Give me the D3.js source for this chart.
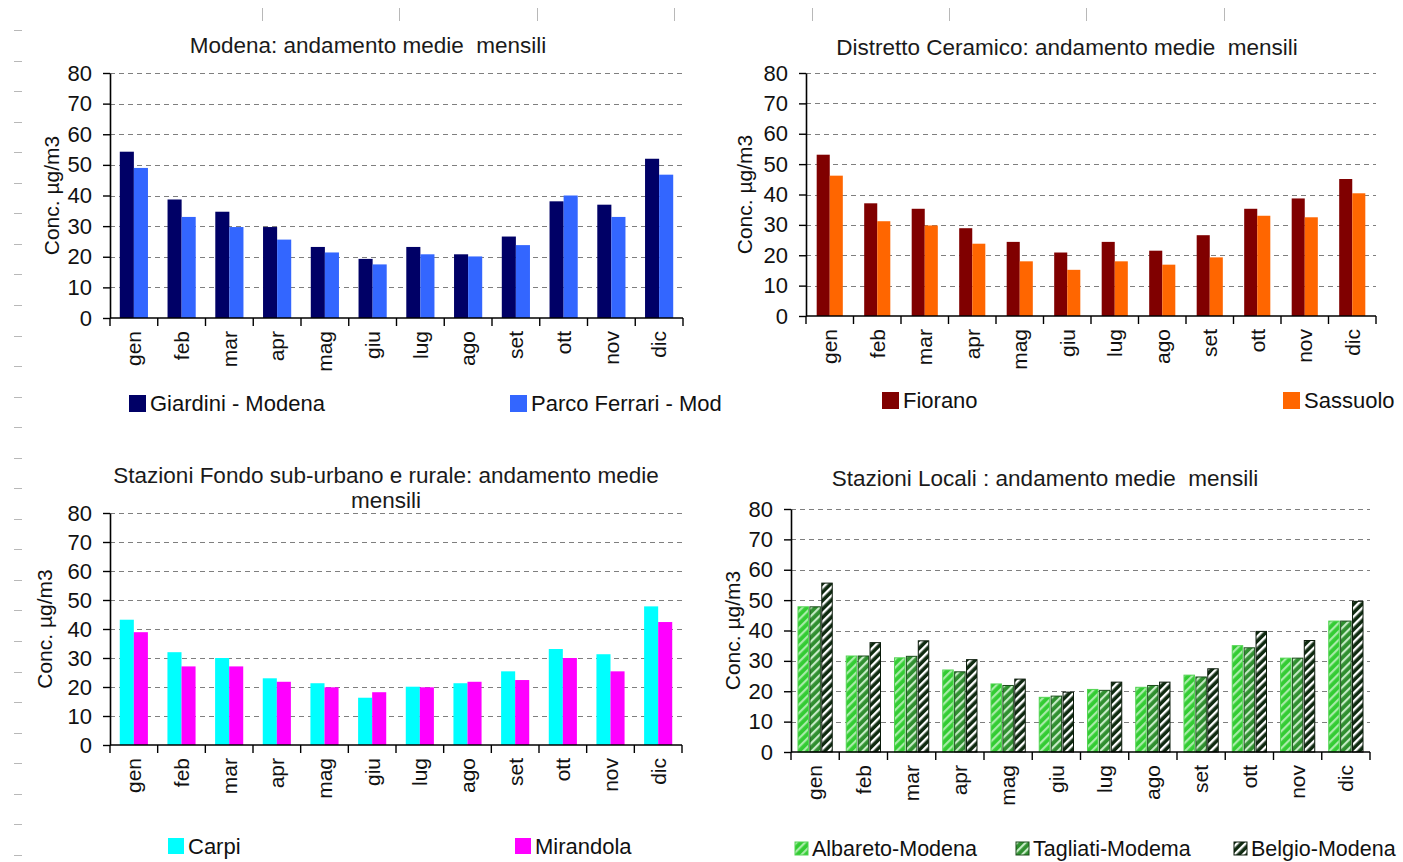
<!DOCTYPE html>
<html>
<head>
<meta charset="utf-8">
<script src="https://cdn.jsdelivr.net/npm/d3@7"></script>
<style>
  html, body { margin: 0; padding: 0; background: #ffffff; }
  svg { display: block; font-family: "Liberation Sans", Arial, sans-serif; }
  svg text { white-space: pre; }
</style>
</head>
<body>
<svg id="sheet" width="1403" height="862"></svg>
<script>
// Monthly mean concentrations (µg/m3) by station
const months = ["gen", "feb", "mar", "apr", "mag", "giu", "lug", "ago", "set", "ott", "nov", "dic"];
const yTicks = [0, 10, 20, 30, 40, 50, 60, 70, 80];

const giardiniModena = [54.3, 38.7, 34.7, 29.7, 23.2, 19.3, 23.2, 20.8, 26.6, 38.1, 37.0, 52.0];
const parcoFerrari   = [49.0, 33.0, 29.7, 25.6, 21.4, 17.5, 20.8, 20.1, 23.8, 40.0, 33.0, 46.8];

const fiorano  = [53.1, 37.1, 35.3, 28.9, 24.4, 20.9, 24.4, 21.5, 26.6, 35.3, 38.7, 45.1];
const sassuolo = [46.2, 31.2, 29.8, 23.8, 18.0, 15.2, 18.0, 16.9, 19.3, 33.0, 32.5, 40.4];

const carpi     = [43.2, 32.0, 30.0, 23.0, 21.3, 16.3, 20.1, 21.3, 25.4, 33.1, 31.3, 47.8];
const mirandola = [38.9, 27.1, 27.1, 21.8, 19.9, 18.2, 19.9, 21.8, 22.4, 30.0, 25.4, 42.4];

const albareto = [47.8, 31.6, 31.0, 27.0, 22.4, 18.0, 20.6, 21.3, 25.3, 35.0, 30.9, 43.1];
const tagliati = [47.8, 31.6, 31.5, 26.4, 21.9, 18.4, 20.3, 21.9, 24.7, 34.3, 30.9, 43.1];
const belgio   = [55.6, 36.0, 36.6, 30.4, 24.0, 19.7, 23.0, 23.0, 27.4, 39.7, 36.7, 49.6];

const svg = d3.select("#sheet");
const TICK_FONT = 22;
const LABEL_FONT = 21;
const TITLE_FONT = 22.5;
const LEGEND_FONT = 22;

// Diagonal hatch fills used by the local-station bars
const defs = svg.append("defs");
function hatch(id, base, stripe, width) {
  const p = defs.append("pattern")
    .attr("id", id)
    .attr("patternUnits", "userSpaceOnUse")
    .attr("width", 6).attr("height", 6)
    .attr("patternTransform", "rotate(45)");
  p.append("rect").attr("width", 6).attr("height", 6).attr("fill", base);
  p.append("rect").attr("x", 0).attr("width", width).attr("height", 6).attr("fill", stripe);
}
hatch("hatchAlbareto", "#33cc33", "#a8eca8", 2.2);
hatch("hatchTagliati", "#2f8f2f", "#c6ebc6", 2.2);
hatch("hatchBelgio", "#0f2a10", "#ffffff", 2.4);

// Spreadsheet gutter marks along the top and left edge
const gutter = svg.append("g").attr("stroke", "#b8b8b8").attr("stroke-width", 1);
d3.range(8).forEach(i => {
  const x = Math.round(262 + i * 137.4) + 0.5;
  gutter.append("line").attr("x1", x).attr("x2", x).attr("y1", 8).attr("y2", 21);
});
d3.range(28).forEach(i => {
  const y = Math.round(30 + i * 30.55) + 0.5;
  gutter.append("line").attr("x1", 14).attr("x2", 22).attr("y1", y).attr("y2", y);
});

const panels = [
  {
    title: ["Modena: andamento medie  mensili"], titleX: 368, titleY: 53,
    left: 110, right: 683, top: 73, bottom: 318, groupPad: 0.41, innerPad: 0,
    labelX: 59,
    series: [
      { name: "Giardini - Modena", values: giardiniModena, fill: "#000066", stroke: "none", lx: 129, size: 17 },
      { name: "Parco Ferrari - Mod", values: parcoFerrari, fill: "#3366ff", stroke: "none", lx: 510, size: 17 }
    ],
    legendY: 395, legendFont: LEGEND_FONT
  },
  {
    title: ["Distretto Ceramico: andamento medie  mensili"], titleX: 1067, titleY: 55,
    left: 806, right: 1376, top: 73, bottom: 316, groupPad: 0.45, innerPad: 0,
    labelX: 752,
    series: [
      { name: "Fiorano", values: fiorano, fill: "#800000", stroke: "none", lx: 882, size: 17 },
      { name: "Sassuolo", values: sassuolo, fill: "#ff6600", stroke: "none", lx: 1283, size: 17 }
    ],
    legendY: 392, legendFont: LEGEND_FONT
  },
  {
    title: ["Stazioni Fondo sub-urbano e rurale: andamento medie", "mensili"], titleX: 386, titleY: 483,
    left: 110, right: 682, top: 513, bottom: 745, groupPad: 0.41, innerPad: 0,
    labelX: 52,
    series: [
      { name: "Carpi", values: carpi, fill: "#00ffff", stroke: "none", lx: 168, size: 16 },
      { name: "Mirandola", values: mirandola, fill: "#ff00ff", stroke: "none", lx: 515, size: 16 }
    ],
    legendY: 838, legendFont: LEGEND_FONT
  },
  {
    title: ["Stazioni Locali : andamento medie  mensili"], titleX: 1045, titleY: 486,
    left: 791, right: 1370, top: 509, bottom: 752, groupPad: 0.29, innerPad: 0.12,
    labelX: 740,
    series: [
      { name: "Albareto-Modena", values: albareto, fill: "url(#hatchAlbareto)", stroke: "#52d452", lx: 795, size: 13 },
      { name: "Tagliati-Modema", values: tagliati, fill: "url(#hatchTagliati)", stroke: "#1b4d1b", lx: 1016, size: 13 },
      { name: "Belgio-Modena", values: belgio, fill: "url(#hatchBelgio)", stroke: "#0a1a0a", lx: 1234, size: 13 }
    ],
    legendY: 842, legendFont: 21.5
  }
];

panels.forEach(p => {
  const g = svg.append("g");

  const x = d3.scaleBand().domain(months)
    .range([p.left, p.right])
    .paddingInner(p.groupPad).paddingOuter(p.groupPad / 2);
  const xs = d3.scaleBand().domain(p.series.map(s => s.name))
    .range([0, x.bandwidth()]).paddingInner(p.innerPad);
  const y = d3.scaleLinear().domain([0, 80]).range([p.bottom, p.top]);

  // dashed horizontal gridlines
  g.append("g").selectAll("line")
    .data(yTicks.filter(t => t > 0))
    .join("line")
    .attr("x1", p.left).attr("x2", p.right)
    .attr("y1", d => Math.round(y(d)) + 0.5).attr("y2", d => Math.round(y(d)) + 0.5)
    .attr("stroke", "#7f7f7f").attr("stroke-width", 1.2)
    .attr("stroke-dasharray", "5,4");

  // bars
  p.series.forEach(s => {
    g.append("g").selectAll("rect")
      .data(s.values)
      .join("rect")
      .attr("x", (d, i) => x(months[i]) + xs(s.name))
      .attr("y", d => y(d))
      .attr("width", xs.bandwidth())
      .attr("height", d => y(0) - y(d))
      .attr("fill", s.fill)
      .attr("stroke", s.stroke)
      .attr("stroke-width", s.stroke === "none" ? 0 : 1);
  });

  // y axis
  const yAxis = g.append("g")
    .attr("transform", `translate(${p.left},0)`)
    .call(d3.axisLeft(y).tickValues(yTicks).tickSize(7).tickPadding(11).tickSizeOuter(0));
  yAxis.select(".domain").attr("stroke", "#000").attr("stroke-width", 1.6);
  yAxis.selectAll(".tick line").attr("stroke", "#000").attr("stroke-width", 1.4);
  yAxis.selectAll(".tick text")
    .attr("font-size", TICK_FONT).attr("fill", "#111")
    .attr("font-family", "Liberation Sans, Arial, sans-serif");

  // x axis: ticks on category boundaries
  const xAxis = g.append("g").attr("transform", `translate(0,${p.bottom})`);
  xAxis.append("line")
    .attr("x1", p.left).attr("x2", p.right)
    .attr("stroke", "#000").attr("stroke-width", 1.6);
  const step = x.step();
  const bounds = d3.range(months.length + 1).map(i => x(months[0]) - x.paddingOuter() * step + i * step);
  xAxis.selectAll("line.bound")
    .data(bounds)
    .join("line")
    .attr("class", "bound")
    .attr("x1", d => d).attr("x2", d => d)
    .attr("y1", 0).attr("y2", 8)
    .attr("stroke", "#000").attr("stroke-width", 1.4);
  xAxis.selectAll("text")
    .data(months)
    .join("text")
    .attr("transform", d => `translate(${x(d) + x.bandwidth() / 2},13) rotate(-90)`)
    .attr("text-anchor", "end")
    .attr("dy", "0.35em")
    .attr("font-size", LABEL_FONT).attr("fill", "#111")
    .text(d => d);

  // y axis title
  g.append("text")
    .attr("transform", `translate(${p.labelX},${(p.top + p.bottom) / 2}) rotate(-90)`)
    .attr("text-anchor", "middle")
    .attr("font-size", LABEL_FONT).attr("fill", "#111")
    .text("Conc. µg/m3");

  // chart title
  p.title.forEach((line, i) => {
    g.append("text")
      .attr("x", p.titleX).attr("y", p.titleY + i * 25)
      .attr("text-anchor", "middle")
      .attr("font-size", TITLE_FONT).attr("fill", "#1a1a1a")
      .text(line);
  });

  // legend
  p.series.forEach(s => {
    g.append("rect")
      .attr("x", s.lx).attr("y", p.legendY)
      .attr("width", s.size).attr("height", s.size)
      .attr("fill", s.fill)
      .attr("stroke", s.stroke).attr("stroke-width", s.stroke === "none" ? 0 : 1);
    g.append("text")
      .attr("x", s.lx + s.size + 4).attr("y", p.legendY + s.size / 2)
      .attr("dy", "0.35em")
      .attr("font-size", p.legendFont).attr("fill", "#111")
      .text(s.name);
  });
});
</script>
</body>
</html>
